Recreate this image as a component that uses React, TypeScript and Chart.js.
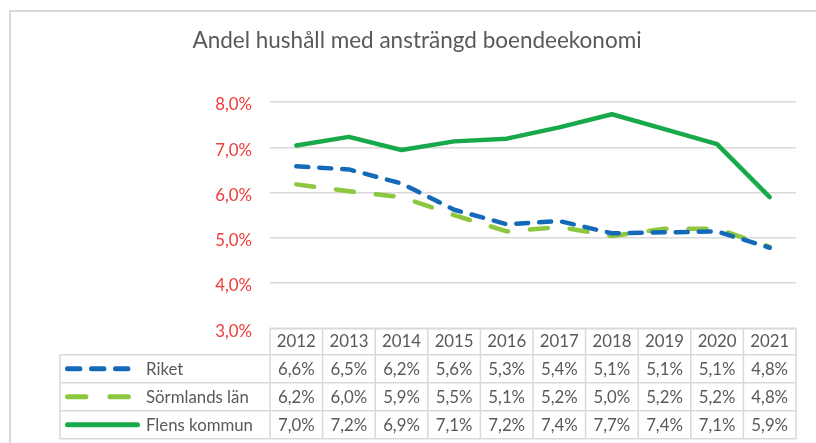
import React, { useEffect, useRef } from "react";
import { Chart, registerables } from "chart.js";

Chart.register(...registerables);

const title = "Andel hushåll med ansträngd boendeekonomi";
const years = ["2012", "2013", "2014", "2015", "2016", "2017", "2018", "2019", "2020", "2021"];
const seriesNames = ["Riket", "Sörmlands län", "Flens kommun"];
const riket = [6.58, 6.51, 6.2, 5.62, 5.3, 5.37, 5.1, 5.12, 5.14, 4.78];
const sormland = [6.18, 6.03, 5.9, 5.5, 5.14, 5.24, 5.04, 5.2, 5.2, 4.8];
const flens = [7.04, 7.23, 6.94, 7.13, 7.19, 7.44, 7.73, 7.4, 7.07, 5.9];
const yMin = 3;
const yMax = 8;
const yStep = 0.5;

const FONT = "Lato, 'Open Sans', sans-serif";
const TEXT = "#595959";
const GRID = "#d9d9d9";
const RED = "#f03a3a";
const colors = ["#1469b8", "#8dc63f", "#17a94a"];
const dashes = [[12.4, 11.6], [18.4, 24], []];
const chartDashes = [[12, 11], [18, 22], []];
const TABLE_FONT_SIZE = 16.8;

const fmt = (v: number) => v.toFixed(1).replace(".", ",") + "%";

const framePlugin = {
  id: "frame",
  beforeDraw(chart: any) {
    const ctx = chart.ctx;
    ctx.save();
    ctx.fillStyle = "#ffffff";
    ctx.fillRect(0, 0, chart.width, chart.height);
    ctx.fillStyle = GRID;
    ctx.fillRect(9, 10, 2, chart.height - 10);
    ctx.fillRect(9, 10, chart.width - 9, 2);
    ctx.restore();
  },
};

const tablePlugin = {
  id: "dataTable",
  afterDraw(chart: any) {
    const { ctx, chartArea } = chart;
    const xs = chart.scales.x;
    const left = chartArea.left;
    const right = chartArea.right;
    const top = chartArea.bottom;
    const rows = [top, top + 26.5, top + 54.5, top + 82.5, top + 110.5];
    const tableLeft = 60;
    const colW = (right - left) / years.length;
    const all = [riket, sormland, flens];

    ctx.save();
    ctx.strokeStyle = GRID;
    ctx.lineWidth = 1.5;
    ctx.beginPath();
    ctx.moveTo(left, rows[0]);
    ctx.lineTo(right, rows[0]);
    for (let r = 1; r < rows.length; r++) {
      ctx.moveTo(tableLeft, rows[r]);
      ctx.lineTo(right, rows[r]);
    }
    for (let i = 0; i <= years.length; i++) {
      const x = left + i * colW;
      ctx.moveTo(x, rows[0]);
      ctx.lineTo(x, rows[4]);
    }
    ctx.moveTo(tableLeft, rows[1]);
    ctx.lineTo(tableLeft, rows[4]);
    ctx.stroke();

    ctx.fillStyle = TEXT;
    ctx.font = `${TABLE_FONT_SIZE}px ${FONT}`;
    ctx.textAlign = "center";
    ctx.textBaseline = "middle";
    years.forEach((y, i) => {
      ctx.fillText(y, xs.getPixelForValue(i), (rows[0] + rows[1]) / 2 + 0.5);
    });
    all.forEach((data, s) => {
      const cy = (rows[s + 1] + rows[s + 2]) / 2 + 0.5;
      data.forEach((v, i) => {
        ctx.fillText(fmt(v), xs.getPixelForValue(i), cy);
      });
    });

    all.forEach((_, s) => {
      const cy = (rows[s + 1] + rows[s + 2]) / 2;
      ctx.save();
      ctx.strokeStyle = colors[s];
      ctx.lineWidth = 5;
      ctx.lineCap = "round";
      ctx.setLineDash(dashes[s]);
      ctx.beginPath();
      ctx.moveTo(67.5, cy);
      ctx.lineTo(137.5, cy);
      ctx.stroke();
      ctx.restore();
      ctx.fillStyle = TEXT;
      ctx.textAlign = "left";
      ctx.fillText(seriesNames[s], 146, cy + 0.5);
    });
    ctx.restore();
  },
};

export default function App() {
  const ref = useRef<HTMLCanvasElement>(null);
  useEffect(() => {
    if (!ref.current) return;
    const all = [riket, sormland, flens];
    const chart = new Chart(ref.current, {
      type: "line",
      data: {
        labels: years,
        datasets: all.map((d, s) => ({
          label: seriesNames[s],
          data: d,
          borderColor: colors[s],
          backgroundColor: colors[s],
          borderWidth: 4.5,
          borderDash: chartDashes[s],
          borderCapStyle: "round" as const,
          borderJoinStyle: "round" as const,
          pointRadius: 0,
          tension: 0,
          fill: false,
        })),
      },
      options: {
        responsive: false,
        animation: false,
        layout: { padding: { left: 38, right: 20, top: 0, bottom: 114.7 } },
        plugins: {
          legend: { display: false },
          tooltip: { enabled: false },
          title: {
            display: true,
            text: title,
            color: TEXT,
            font: { family: FONT, size: 22.5, weight: "normal" },
            padding: { top: 27.5, bottom: 47.5 },
          },
        },
        scales: {
          x: { type: "category", offset: true, display: false },
          y: {
            min: yMin,
            max: yMax,
            border: { display: false },
            grid: { color: GRID, lineWidth: 1.5, drawTicks: false },
            ticks: {
              stepSize: yStep,
              color: RED,
              padding: 18,
              labelOffset: 3,
              font: { family: FONT, size: TABLE_FONT_SIZE },
              callback: (v: any) => (Number.isInteger(v) ? fmt(v) : ""),
            },
            afterFit: (scale: any) => {
              scale.width = 232;
            },
          },
        },
      },
      plugins: [framePlugin, tablePlugin],
    });
    return () => chart.destroy();
  }, []);
  return (
    <div style={{ position: "absolute", left: 0, top: 0, width: 816, height: 443 }}>
      <canvas ref={ref} width={816} height={443} />
    </div>
  );
}
